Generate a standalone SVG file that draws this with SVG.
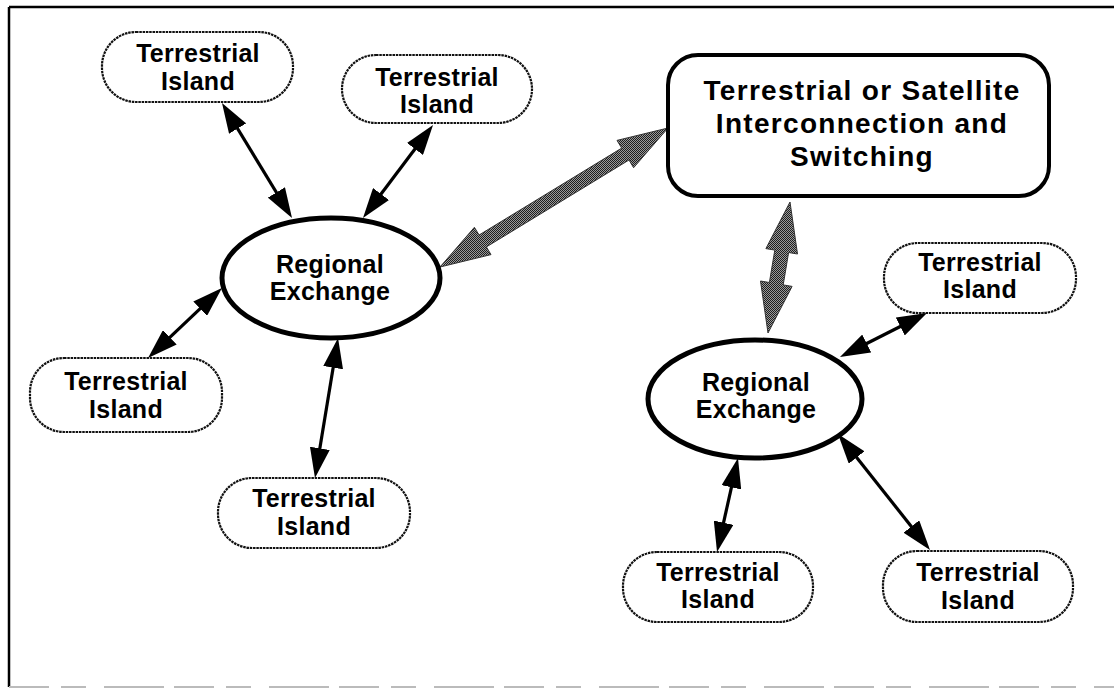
<svg xmlns="http://www.w3.org/2000/svg" width="1114" height="691" viewBox="0 0 1114 691">
  <style>
    .island rect { fill: #fff; stroke: #111; stroke-width: 2.2; stroke-dasharray: 2.5 0.8; }
    .exchange ellipse { fill: #fff; stroke: #000; stroke-width: 5; }
    .hub rect { fill: #fff; stroke: #000; stroke-width: 4; }
    text { font-family: "Liberation Sans", Arial, Helvetica, sans-serif; font-weight: bold; fill: #000; text-anchor: middle; }
    .lbl { font-size: 25px; letter-spacing: 0.3px; }
    .big { font-size: 28px; letter-spacing: 1.3px; }
    .link { stroke: #000; stroke-width: 3.2; fill: none; marker-start: url(#head); marker-end: url(#head); }
    .trunk { fill: url(#dither); stroke: #333; stroke-width: 1; }
  </style>
  <defs>
    <!-- solid arrowhead; tip sits 10px past the line end -->
    <marker id="head" viewBox="0 0 30 20" refX="20" refY="10" markerWidth="30" markerHeight="20" markerUnits="userSpaceOnUse" orient="auto-start-reverse">
      <path d="M0,0 L30,10 L0,20 z" fill="#000"/>
    </marker>
    <!-- halftone fill for the wide trunk arrows -->
    <pattern id="dither" width="2" height="2" patternUnits="userSpaceOnUse">
      <rect width="2" height="2" fill="#9a9a9a"/>
      <rect width="1" height="1" fill="#1e1e1e"/>
      <rect x="1" y="1" width="1" height="1" fill="#1e1e1e"/>
    </pattern>
  </defs>

  <!-- page frame -->
  <g id="frame" fill="none">
    <line x1="9" y1="7" x2="1114" y2="7" stroke="#000" stroke-width="2.5"/>
    <line x1="9" y1="7" x2="9" y2="687" stroke="#000" stroke-width="2.5"/>
    <line x1="9" y1="687" x2="1114" y2="687" stroke="#bbb" stroke-width="2" stroke-dasharray="40 12 25 18 60 10"/>
  </g>

  <!-- connectors -->
  <g id="connectors">
    <line class="link" x1="227.2" y1="111.5" x2="286.8" y2="209.5"/>
    <line class="link" x1="427" y1="133" x2="369" y2="210"/>
    <line class="link" x1="214.7" y1="294.9" x2="155.3" y2="351.1"/>
    <line class="link" x1="336.4" y1="347.9" x2="316.6" y2="468.1"/>
    <line class="link" x1="848.9" y1="352.5" x2="918.1" y2="317.5"/>
    <line class="link" x1="735.8" y1="467.8" x2="719.2" y2="542.2"/>
    <line class="link" x1="844.2" y1="441.8" x2="923.8" y2="542.2"/>
    <polygon class="trunk" points="440,267 491.0,254.6 486.4,246.9 629.0,160.0 633.6,167.7 668,128 617.0,140.4 621.7,148.1 479.1,235.0 474.4,227.3"/>
    <polygon class="trunk" points="790,202 797.5,254.0 788.6,252.5 783.2,284.9 792.1,286.4 768,333 760.5,281.0 769.4,282.5 774.8,250.1 765.9,248.6"/>
  </g>

  <!-- interconnection hub -->
  <g id="hub" class="hub">
    <rect x="668" y="55" width="381" height="141" rx="30" ry="30"/>
    <text class="big" x="862" y="100">Terrestrial or Satellite</text>
    <text class="big" x="862" y="133">Interconnection and</text>
    <text class="big" x="862" y="166">Switching</text>
  </g>

  <!-- regional exchanges -->
  <g id="exchange-west" class="exchange">
    <ellipse cx="331" cy="278" rx="109" ry="60"/>
    <text class="lbl" x="330" y="273">Regional</text>
    <text class="lbl" x="330" y="300">Exchange</text>
  </g>
  <g id="exchange-east" class="exchange">
    <ellipse cx="755" cy="399" rx="107" ry="59"/>
    <text class="lbl" x="756" y="391">Regional</text>
    <text class="lbl" x="756" y="418">Exchange</text>
  </g>

  <!-- terrestrial islands -->
  <g id="island-nw" class="island">
    <rect x="102" y="32" width="191" height="70" rx="34" ry="34"/>
    <text class="lbl" x="198" y="62">Terrestrial</text>
    <text class="lbl" x="198" y="90">Island</text>
  </g>
  <g id="island-n" class="island">
    <rect x="342" y="55" width="190" height="68" rx="34" ry="34"/>
    <text class="lbl" x="437" y="86">Terrestrial</text>
    <text class="lbl" x="437" y="113">Island</text>
  </g>
  <g id="island-w" class="island">
    <rect x="30" y="358" width="192" height="74" rx="34" ry="34"/>
    <text class="lbl" x="126" y="390">Terrestrial</text>
    <text class="lbl" x="126" y="418">Island</text>
  </g>
  <g id="island-sw" class="island">
    <rect x="218" y="478" width="192" height="70" rx="34" ry="34"/>
    <text class="lbl" x="314" y="507">Terrestrial</text>
    <text class="lbl" x="314" y="535">Island</text>
  </g>
  <g id="island-e" class="island">
    <rect x="884" y="243" width="192" height="70" rx="34" ry="34"/>
    <text class="lbl" x="980" y="271">Terrestrial</text>
    <text class="lbl" x="980" y="298">Island</text>
  </g>
  <g id="island-s" class="island">
    <rect x="623" y="552" width="190" height="70" rx="34" ry="34"/>
    <text class="lbl" x="718" y="581">Terrestrial</text>
    <text class="lbl" x="718" y="608">Island</text>
  </g>
  <g id="island-se" class="island">
    <rect x="883" y="551" width="190" height="71" rx="34" ry="34"/>
    <text class="lbl" x="978" y="581">Terrestrial</text>
    <text class="lbl" x="978" y="609">Island</text>
  </g>
</svg>
